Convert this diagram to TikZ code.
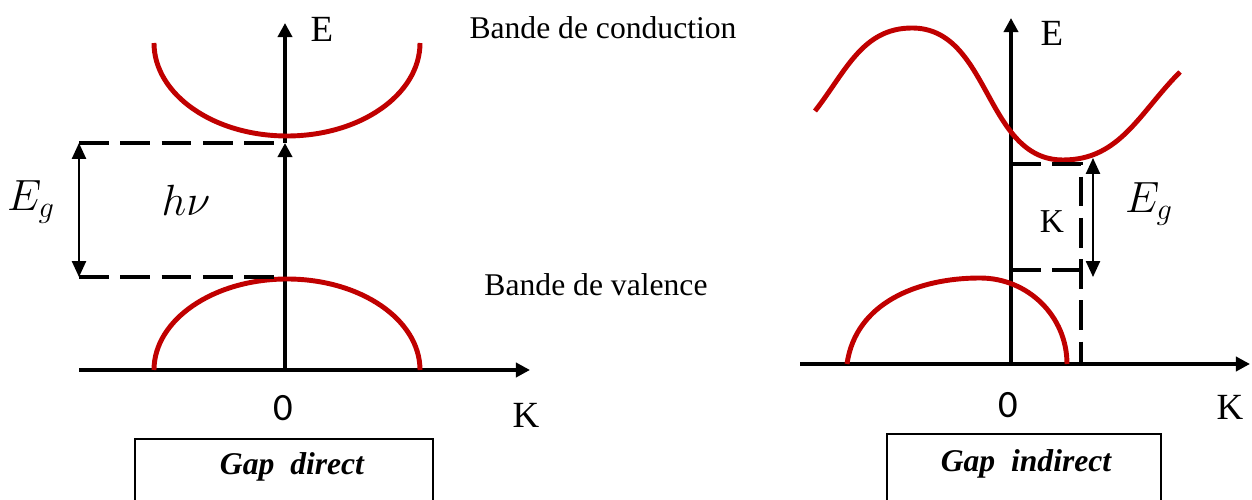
\documentclass[tikz,border=0pt]{standalone}
\usepackage{fontspec}
\setmainfont{Liberation Serif}
\newfontfamily\digitfont{Carlito}
\usetikzlibrary{arrows.meta}
\definecolor{bandred}{RGB}{192,0,0}

\begin{document}
\begin{tikzpicture}[x=0.02cm, y=0.02cm,
    axis/.style={line width=2.2pt, -{Triangle[width=8pt,length=8pt]}},
    band/.style={line width=2.8pt, bandred},
    gapline/.style={line width=2.2pt, dash pattern=on 17pt off 6.5pt},
    gaparrow/.style={line width=1pt, {Triangle[width=8pt,length=9pt]}-{Triangle[width=8pt,length=9pt]}},
    lbl/.style={font=\fontsize{21}{23}\selectfont},
    zero/.style={font=\digitfont\fontsize{22}{24}\selectfont},
    sym/.style={font=\fontsize{23}{25}\selectfont},
    caption/.style={font=\fontsize{18}{20}\selectfont\bfseries\itshape}]
  \useasboundingbox (0,0) rectangle (1252,500);

  % Gap direct
  \coordinate (o1) at (285,130);
  \coordinate (x1) at (79,130);
  \coordinate (k1) at (530,130);
  \coordinate (c1) at (285,357);
  \coordinate (e1) at (285,477);
  \coordinate (v1) at (285,223);
  \coordinate (gt1) at (79,357);
  \coordinate (gb1) at (79,223);

  \draw[axis] (x1) -- (k1);
  \draw[axis] (o1) -- (c1);
  \draw[axis] (c1) -- (e1);

  % bands
  \draw[band] (154,457) arc[start angle=180, end angle=360, x radius=133, y radius=93];
  \draw[band] (154,130) arc[start angle=180, end angle=0, x radius=133, y radius=91];

  % gap
  \draw[gapline] (gt1) -- (c1);
  \draw[gapline] (gb1) -- (v1);
  \draw[gaparrow] (gb1) -- (gt1);

  \node[lbl] (E1) at (322,471) {E};
  \node[lbl] (K1) at (526,85) {K};
  \node[zero] (z1) at (283,92) {0};
  \node[sym] (Eg1) at (31,298) {$E_g$};
  \node[sym] (hv) at (186,300) {$h\nu$};
  \node[font=\fontsize{18}{20}\selectfont] (cond) at (603,472) {Bande de conduction};
  \node[font=\fontsize{18}{20}\selectfont] (val) at (596,215) {Bande de valence};

  \draw[line width=1pt] (135,-5) -- (135,61) -- (433,61) -- (433,-5);
  \node[caption] (cap1) at (292,33) {Gap\ \ direct};

  % Gap indirect
  \coordinate (o2) at (1011,136);
  \coordinate (x2) at (800,136);
  \coordinate (k2) at (1250,136);
  \coordinate (e2) at (1011,482);
  \coordinate (t2) at (1011,336);
  \coordinate (b2) at (1011,230);
  \coordinate (tr2) at (1081,336);
  \coordinate (br2) at (1081,230);
  \coordinate (f2) at (1081,136);
  \coordinate (at2) at (1093,342);
  \coordinate (ab2) at (1093,223);

  \draw[axis] (x2) -- (k2);
  \draw[axis] (o2) -- (e2);

  % bands
  \draw[band] (815,389) to[out=52, in=180] (912,472) to[out=0, in=180] (1063,340) to[out=0, in=225] (1180,428);
  \draw[band] (847,136) to[out=82, in=180] (980,222) to[out=0, in=90] (1067,136);

  % gap
  \draw[gapline] (t2) -- (tr2) -- (f2);
  \draw[gapline] (b2) -- (br2);
  \draw[gaparrow] (ab2) -- (at2);

  \node[lbl] (E2) at (1052,467) {E};
  \node[lbl] (K2) at (1230,93) {K};
  \node[font=\fontsize{19}{21}\selectfont] (Kv) at (1052,278) {K};
  \node[zero] (z2) at (1008,95) {0};
  \node[sym] (Eg2) at (1149,296) {$E_g$};

  \draw[line width=1pt] (887,-5) -- (887,66) -- (1161,66) -- (1161,-5);
  \node[caption] (cap2) at (1026,36) {Gap\ \ indirect};
\end{tikzpicture}
\end{document}
